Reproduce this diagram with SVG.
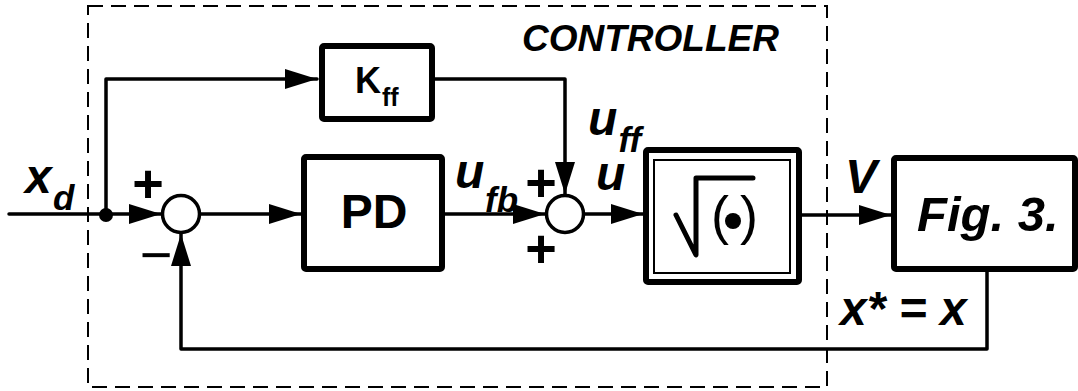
<svg xmlns="http://www.w3.org/2000/svg" width="1078" height="391" viewBox="0 0 1078 391">
<style>
.blk{fill:none;stroke:#000;stroke-width:6;stroke-linejoin:round}
.ln{fill:none;stroke:#000;stroke-width:3.5;stroke-linejoin:round;stroke-linecap:round}
.t{font-family:"Liberation Sans",Arial,sans-serif;fill:#000}
.bi{font-weight:bold;font-style:italic}
.b{font-weight:bold}
</style>
<defs>
<marker id="ah" markerUnits="userSpaceOnUse" markerWidth="32" markerHeight="20" refX="32" refY="10" orient="auto" viewBox="0 0 32 20">
<path d="M0,0 L32,10 L0,20 z" fill="#000"/>
</marker>
</defs>
<rect fill="#fff" x="0" y="0" width="1078" height="391"/>
<g id="controller-boundary">
<rect x="88" y="6" width="739" height="381" fill="none" stroke="#000" stroke-width="2" stroke-dasharray="15 8"/>
<text class="t bi" x="522" y="51" font-size="37">CONTROLLER</text>
</g>
<g id="connectors">
<line class="ln" x1="9" y1="214" x2="161" y2="214" marker-end="url(#ah)"/>
<circle cx="106" cy="215" r="7" fill="#000"/>
<path class="ln" d="M106,214 V79 H317" marker-end="url(#ah)"/>
<line class="ln" x1="201" y1="214" x2="301" y2="214" marker-end="url(#ah)"/>
<line class="ln" x1="445" y1="214" x2="545" y2="214" marker-end="url(#ah)"/>
<path class="ln" d="M435,79 H565 V194" marker-end="url(#ah)"/>
<line class="ln" x1="585" y1="214" x2="643" y2="214" marker-end="url(#ah)"/>
<line class="ln" x1="802" y1="215" x2="891" y2="215" marker-end="url(#ah)"/>
<path class="ln" d="M987,272 V349 H181 V234" marker-end="url(#ah)"/>
</g>
<g id="labels">
<text class="t bi" x="25" y="193" font-size="48">x</text>
<text class="t bi" x="53" y="210" font-size="35">d</text>
<text class="t b" x="148" y="202" font-size="54" text-anchor="middle">+</text>
<text class="t" x="156" y="274" font-size="56" text-anchor="middle">−</text>
<text class="t bi" x="455" y="188" font-size="48">u</text>
<text class="t bi" x="485" y="212" font-size="35">fb</text>
<text class="t b" x="541" y="201" font-size="54" text-anchor="middle">+</text>
<text class="t b" x="541" y="267" font-size="54" text-anchor="middle">+</text>
<text class="t bi" x="588" y="135" font-size="48">u</text>
<text class="t bi" x="618.5" y="152" font-size="35">ff</text>
<text class="t bi" x="596" y="190" font-size="48">u</text>
<text class="t bi" x="845" y="193" font-size="48">V</text>
<text class="t bi" x="840" y="325" font-size="48">x* = x</text>
</g>
<g id="sum1">
<circle cx="181" cy="214" r="18.5" fill="#fff" stroke="#000" stroke-width="3.5"/>
</g>
<g id="sum2">
<circle cx="565" cy="214" r="18.5" fill="#fff" stroke="#000" stroke-width="3.5"/>
</g>
<g id="kff">
<rect class="blk" x="322" y="46" width="110" height="73" rx="2" fill="#fff"/>
<text class="t b" x="355" y="93" font-size="36">K</text>
<text class="t b" x="382" y="106" font-size="25">ff</text>
</g>
<g id="pd">
<rect class="blk" x="304" y="157" width="138" height="112" rx="2" fill="#fff"/>
<text class="t b" x="374" y="228" font-size="48" text-anchor="middle">PD</text>
</g>
<g id="sqrt">
<rect class="blk" x="646" y="150" width="153" height="132" rx="2" fill="#fff"/>
<rect x="654" y="160" width="136" height="113" fill="none" stroke="#000" stroke-width="2"/>
<path d="M676,215 L696,255 L696,178 L753,178" fill="none" stroke="#000" stroke-width="5" stroke-linecap="round" stroke-linejoin="round"/>
<text class="t" x="711" y="234" font-size="54">(</text>
<text class="t" x="740" y="234" font-size="54">)</text>
<circle cx="733" cy="221" r="8" fill="#000"/>
</g>
<g id="fig3">
<rect class="blk" x="894" y="158" width="181" height="111" rx="2" fill="#fff"/>
<text class="t bi" x="917" y="231" font-size="49">Fig. 3.</text>
</g>
</svg>
